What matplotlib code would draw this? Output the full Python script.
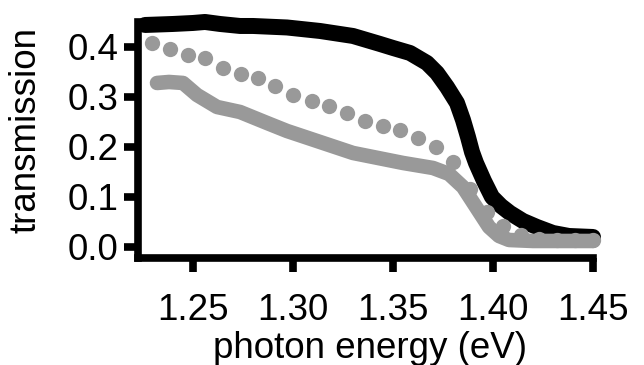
import matplotlib
matplotlib.use('Agg')
import matplotlib.pyplot as plt

plt.rcParams['font.family'] = ['Liberation Sans', 'DejaVu Sans']

# black curve (thick line)
e_black = [1.226, 1.240, 1.250, 1.256, 1.2635, 1.2735, 1.280, 1.297, 1.3135,
           1.330, 1.3435, 1.350, 1.3585, 1.367, 1.372, 1.377, 1.382, 1.385,
           1.3875, 1.3895, 1.3915, 1.3955, 1.3995, 1.404, 1.4085, 1.415,
           1.422, 1.430, 1.438, 1.450]
t_black = [0.444, 0.446, 0.448, 0.450, 0.446, 0.442, 0.442, 0.439, 0.432,
           0.422, 0.406, 0.398, 0.388, 0.368, 0.348, 0.320, 0.288, 0.254,
           0.220, 0.190, 0.168, 0.132, 0.100, 0.082, 0.068, 0.052,
           0.040, 0.028, 0.022, 0.020]

# grey curve (thick line)
e_grey = [1.232, 1.238, 1.245, 1.252, 1.262, 1.2735, 1.287, 1.297, 1.3135,
          1.330, 1.355, 1.370, 1.378, 1.385, 1.3915, 1.398, 1.403, 1.408,
          1.420, 1.450]
t_grey = [0.328, 0.330, 0.328, 0.304, 0.280, 0.270, 0.248, 0.232, 0.210,
          0.188, 0.168, 0.158, 0.146, 0.120, 0.080, 0.040, 0.022, 0.014,
          0.012, 0.012]

# grey dots
e_dots = [1.2293, 1.2385, 1.2473, 1.256, 1.2652, 1.2738, 1.2823, 1.291,
          1.3002, 1.3093, 1.3182, 1.3272, 1.336, 1.3448, 1.3535, 1.3623,
          1.3715, 1.380, 1.3885, 1.397, 1.405, 1.414, 1.423, 1.432, 1.441,
          1.450]
t_dots = [0.407, 0.395, 0.384, 0.377, 0.357, 0.346, 0.337, 0.322,
          0.304, 0.291, 0.282, 0.268, 0.252, 0.241, 0.233, 0.217,
          0.199, 0.169, 0.115, 0.070, 0.042, 0.024, 0.015, 0.014, 0.013,
          0.013]

xticks = [1.25, 1.30, 1.35, 1.40, 1.45]
yticks = [0.0, 0.1, 0.2, 0.3, 0.4]

fig = plt.figure(figsize=(6.44, 3.65), dpi=100)
ax = fig.add_axes([0.2143, 0.2932, 0.7065, 0.6466])

ax.plot(e_black, t_black, color='black', lw=11.5, solid_capstyle='round',
        solid_joinstyle='round', clip_on=False, zorder=2)
ax.plot(e_grey, t_grey, color='#999999', lw=10.5, solid_capstyle='round',
        solid_joinstyle='round', clip_on=False, zorder=3)
ax.plot(e_dots, t_dots, 'o', color='#999999', ms=11, mew=0, clip_on=False,
        zorder=4)

ax.set_xlim(1.2225, 1.45)
ax.set_ylim(-0.022, 0.45)
ax.set_xticks(xticks)
ax.set_xticklabels(['%.2f' % v for v in xticks])
ax.set_yticks(yticks)
ax.set_yticklabels(['%.1f' % v for v in yticks])

for s in ['top', 'right']:
    ax.spines[s].set_visible(False)
for s in ['left', 'bottom']:
    ax.spines[s].set_linewidth(5.5)
    ax.spines[s].set_capstyle('projecting')

ax.tick_params(axis='both', direction='out', length=10, width=5.5,
               labelsize=26.5)
ax.tick_params(axis='x', pad=15)
ax.tick_params(axis='y', pad=4)

ax.set_xlabel('photon energy (eV)', fontsize=26.5)
ax.set_ylabel('transmission', fontsize=26.5)
ax.xaxis.set_label_coords(0.51, -0.31)
ax.yaxis.set_label_coords(-0.207, 0.542)

fig.savefig('out.png', dpi=100)
